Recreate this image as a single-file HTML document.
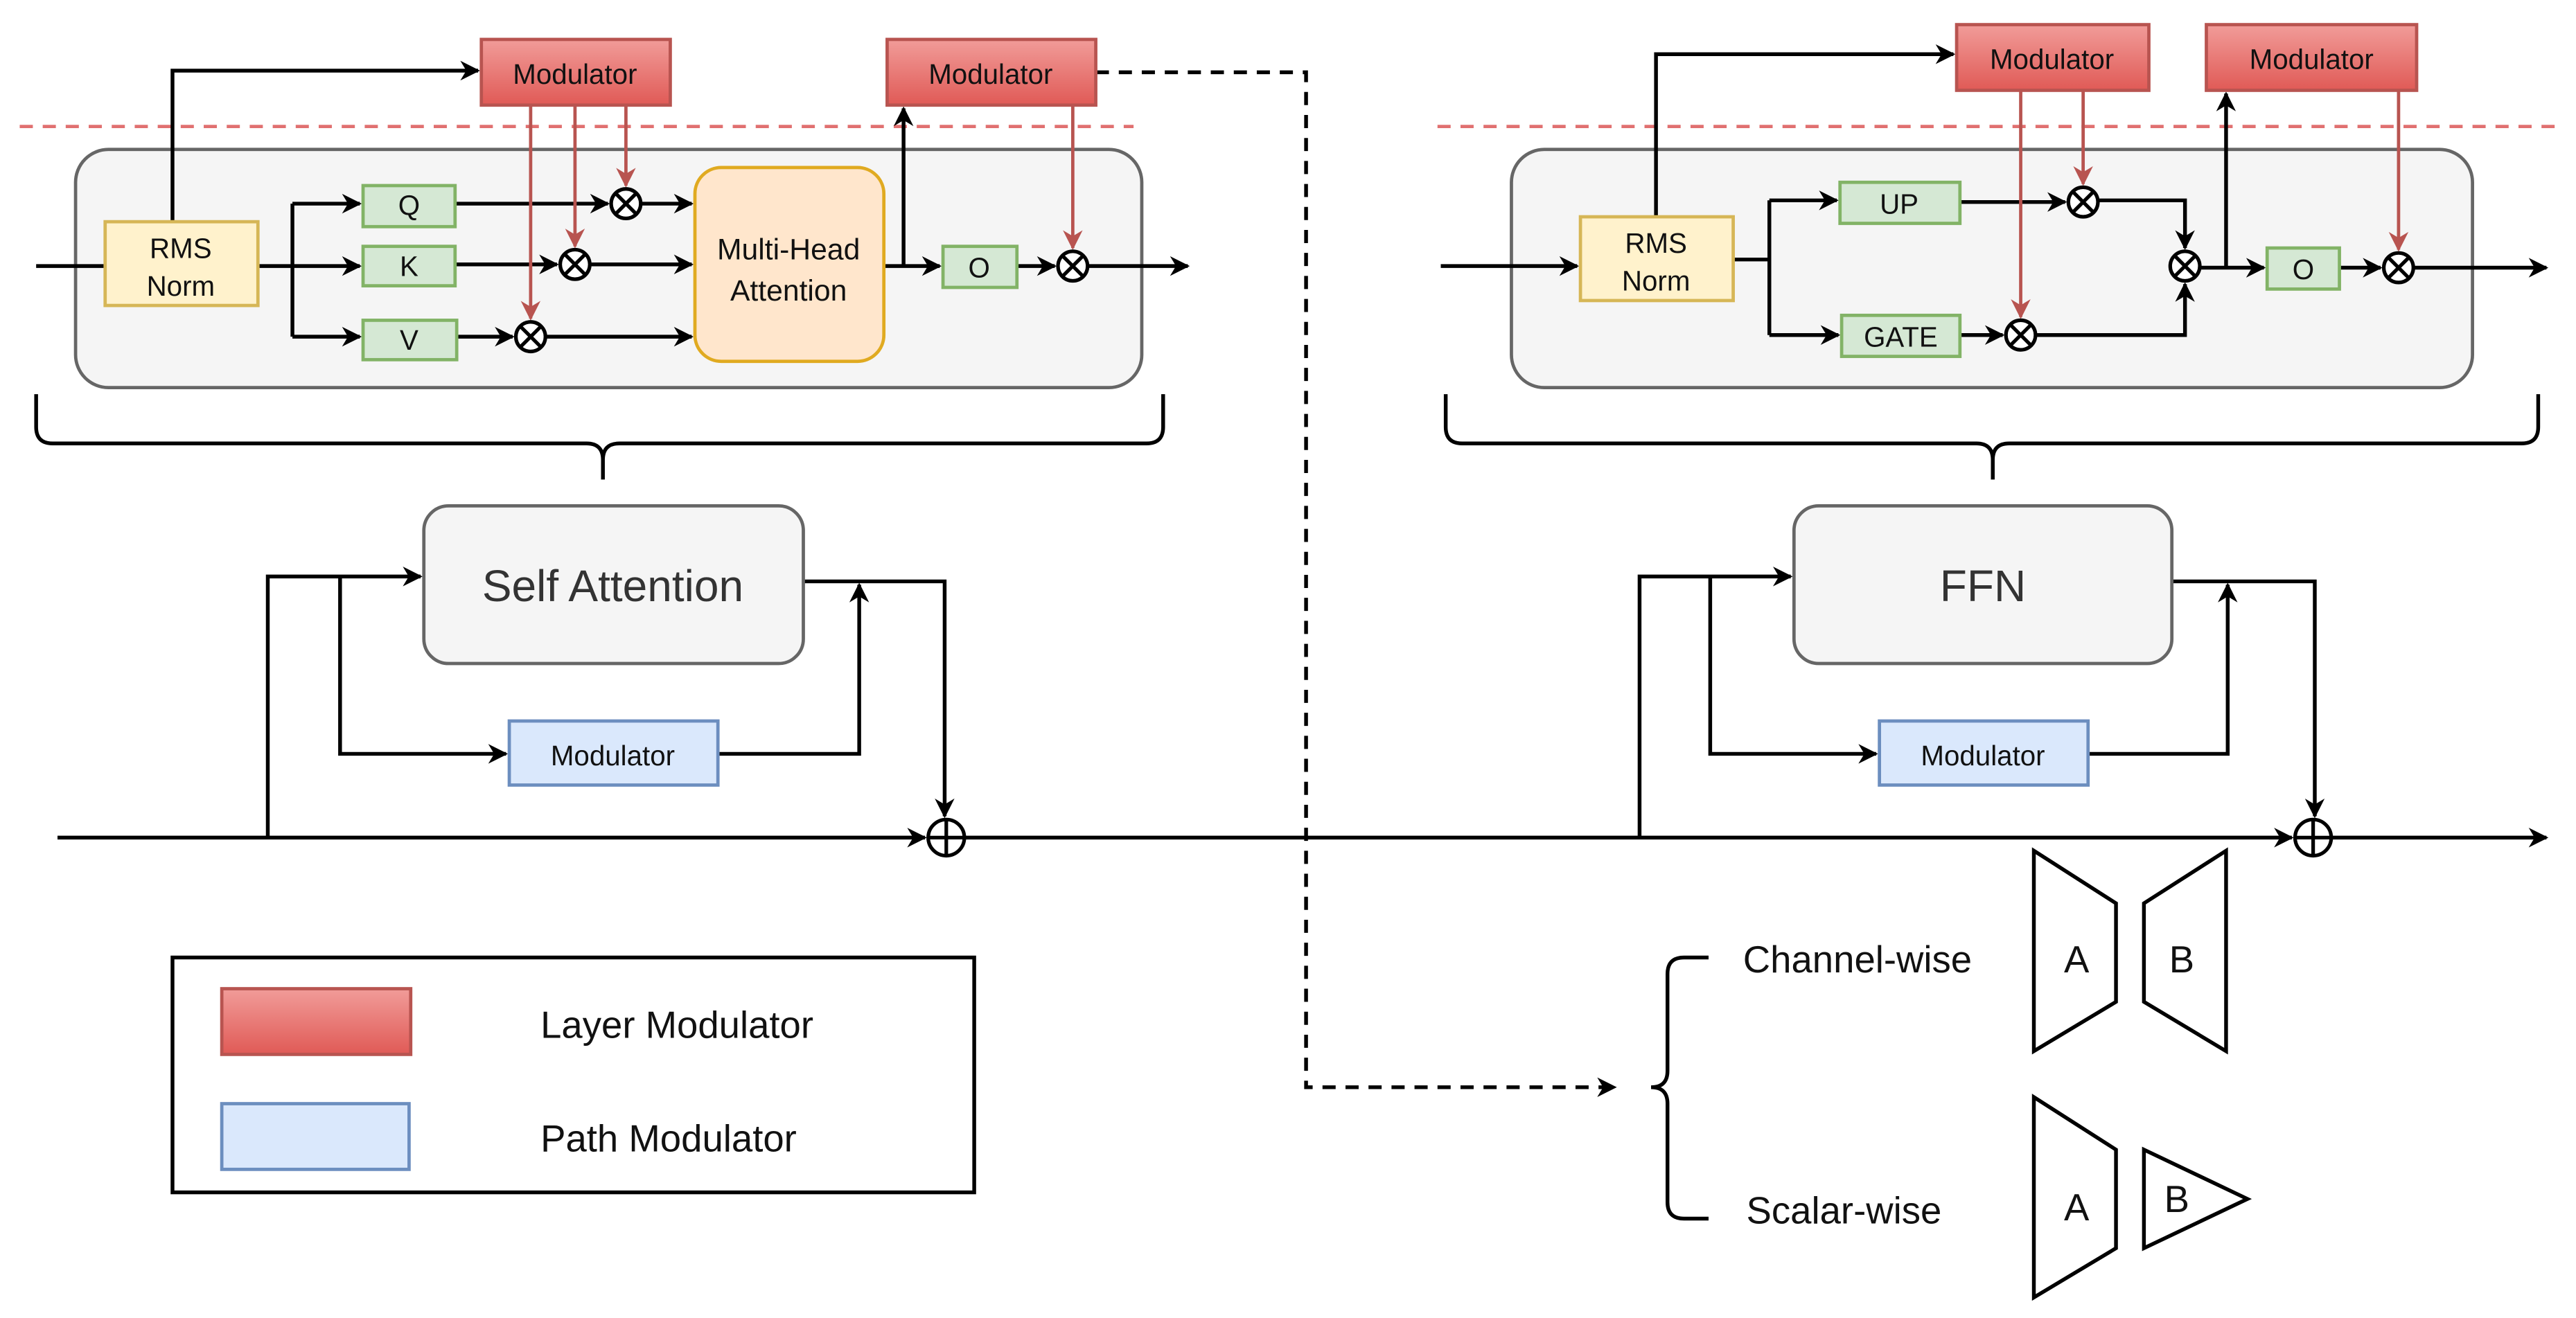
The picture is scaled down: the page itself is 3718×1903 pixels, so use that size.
<!DOCTYPE html>
<html><head><meta charset="utf-8"><style>
html,body{margin:0;padding:0;background:#fff;}
svg{display:block;}
text{font-family:"Liberation Sans",sans-serif;fill:#111;}
</style></head><body>
<svg width="3718" height="1903" viewBox="0 0 1568 802.5" preserveAspectRatio="none" xmlns="http://www.w3.org/2000/svg">
<defs>
<marker id="a" viewBox="0 0 10 10" refX="9" refY="5" markerWidth="12" markerHeight="12" orient="auto" markerUnits="userSpaceOnUse"><path d="M0,0 L10,5 L0,10 L3,5 z" fill="#000"/></marker>
<marker id="r" viewBox="0 0 10 10" refX="9" refY="5" markerWidth="12" markerHeight="12" orient="auto" markerUnits="userSpaceOnUse"><path d="M0,0 L10,5 L0,10 L3,5 z" fill="#b85450"/></marker>
<linearGradient id="rg" x1="0" y1="0" x2="0" y2="1"><stop offset="0" stop-color="#f19c99"/><stop offset="1" stop-color="#e05a56"/></linearGradient>
<g id="ot"><circle r="9" fill="#fff" stroke="#000" stroke-width="2.2"/><path d="M-6.4,-6.4L6.4,6.4M-6.4,6.4L6.4,-6.4" stroke="#000" stroke-width="2.2"/></g>
<g id="op"><circle r="11" fill="#fff" stroke="#000" stroke-width="2.2"/><path d="M-11,0H11M0,-11V11" stroke="#000" stroke-width="2.2"/></g>
</defs>
<g stroke-width="2" fill="none">
<path d="M12,77H690" stroke="#e07070" stroke-dasharray="8,6"/>
<path d="M875,77H1555" stroke="#e07070" stroke-dasharray="8,6"/>
<rect x="46" y="91" width="649" height="145" rx="20" fill="#f5f5f5" stroke="#666"/>
<rect x="920" y="91" width="585" height="145" rx="20" fill="#f5f5f5" stroke="#666"/>
</g>
<g stroke="#000" stroke-width="2.3" fill="none">
<path d="M22,162H64"/>
<path d="M105,135V43H291" marker-end="url(#a)"/>
<path d="M157,162H178M178,124V205"/>
<path d="M178,124H219" marker-end="url(#a)"/>
<path d="M178,162H219" marker-end="url(#a)"/>
<path d="M178,205H219" marker-end="url(#a)"/>
<path d="M277,124H370" marker-end="url(#a)"/>
<path d="M390,124H421" marker-end="url(#a)"/>
<path d="M277,161H339" marker-end="url(#a)"/>
<path d="M359,161H421" marker-end="url(#a)"/>
<path d="M277,205H312" marker-end="url(#a)"/>
<path d="M332,205H421" marker-end="url(#a)"/>
<path d="M538,162H572" marker-end="url(#a)"/>
<path d="M550,162V66" marker-end="url(#a)"/>
<path d="M619,162H642" marker-end="url(#a)"/>
<path d="M662,162H723" marker-end="url(#a)"/>
<path d="M667,44H795V662H983" stroke-dasharray="8,6" marker-end="url(#a)"/>
<path d="M877,162H960" marker-end="url(#a)"/>
<path d="M1008,132V33H1189" marker-end="url(#a)"/>
<path d="M1055,158H1077M1077,122V204"/>
<path d="M1077,122H1118" marker-end="url(#a)"/>
<path d="M1077,204H1119" marker-end="url(#a)"/>
<path d="M1193,123H1257" marker-end="url(#a)"/>
<path d="M1277,122H1330V151" marker-end="url(#a)"/>
<path d="M1193,204H1219" marker-end="url(#a)"/>
<path d="M1239,204H1330V173" marker-end="url(#a)"/>
<path d="M1339,163H1378" marker-end="url(#a)"/>
<path d="M1355,163V57" marker-end="url(#a)"/>
<path d="M1424,163H1449" marker-end="url(#a)"/>
<path d="M1469,163H1550" marker-end="url(#a)"/>
<path d="M22,240V260Q22,270 32,270H357Q367,270 367,280V292M367,280Q367,270 377,270H698Q708,270 708,260V240"/>
<path d="M880,240V260Q880,270 890,270H1203Q1213,270 1213,280V292M1213,280Q1213,270 1223,270H1535Q1545,270 1545,260V240"/>
<path d="M35,510H563" marker-end="url(#a)"/>
<path d="M587,510H1395" marker-end="url(#a)"/>
<path d="M1419,510H1550" marker-end="url(#a)"/>
<path d="M163,510V351H256" marker-end="url(#a)"/>
<path d="M207,351V459H308" marker-end="url(#a)"/>
<path d="M437,459H523V356" marker-end="url(#a)"/>
<path d="M489,354H575V497" marker-end="url(#a)"/>
<path d="M998,510V351H1090" marker-end="url(#a)"/>
<path d="M1041,351V459H1142" marker-end="url(#a)"/>
<path d="M1271,459H1356V356" marker-end="url(#a)"/>
<path d="M1322,354H1409V497" marker-end="url(#a)"/>
<path d="M1040,583H1025Q1015,583 1015,593V652Q1015,662 1005,662Q1015,662 1015,672V732Q1015,742 1025,742H1040"/>
<path d="M1238,518L1288,550V610L1238,640Z"/>
<path d="M1305,550L1355,518V640L1305,610Z"/>
<path d="M1238,668L1288,700V760L1238,790Z"/>
<path d="M1305,700L1368,730L1305,760Z"/>
<rect x="105" y="583" width="488" height="143"/>
</g>
<g stroke="#b85450" stroke-width="2" fill="none">
<path d="M323,64V194" marker-end="url(#r)"/>
<path d="M350,64V150" marker-end="url(#r)"/>
<path d="M381,64V113" marker-end="url(#r)"/>
<path d="M653,64V151" marker-end="url(#r)"/>
<path d="M1230,55V193" marker-end="url(#r)"/>
<path d="M1268,55V112" marker-end="url(#r)"/>
<path d="M1460,55V152" marker-end="url(#r)"/>
</g>
<g stroke-width="2">
<rect x="293" y="24" width="115" height="40" fill="url(#rg)" stroke="#b85450"/>
<rect x="540" y="24" width="127" height="40" fill="url(#rg)" stroke="#b85450"/>
<rect x="1191" y="15" width="117" height="40" fill="url(#rg)" stroke="#b85450"/>
<rect x="1343" y="15" width="128" height="40" fill="url(#rg)" stroke="#b85450"/>
<rect x="135" y="602" width="115" height="40" fill="url(#rg)" stroke="#b85450"/>
<rect x="64" y="135" width="93" height="51" fill="#fff2cc" stroke="#d6b656"/>
<rect x="962" y="132" width="93" height="51" fill="#fff2cc" stroke="#d6b656"/>
<rect x="221" y="113" width="56" height="25" fill="#d5e8d4" stroke="#82b366"/>
<rect x="221" y="150" width="56" height="24" fill="#d5e8d4" stroke="#82b366"/>
<rect x="221" y="195" width="57" height="24" fill="#d5e8d4" stroke="#82b366"/>
<rect x="574" y="150" width="45" height="25" fill="#d5e8d4" stroke="#82b366"/>
<rect x="1120" y="111" width="73" height="25" fill="#d5e8d4" stroke="#82b366"/>
<rect x="1121" y="192" width="72" height="25" fill="#d5e8d4" stroke="#82b366"/>
<rect x="1380" y="151" width="44" height="25" fill="#d5e8d4" stroke="#82b366"/>
<rect x="423" y="102" width="115" height="118" rx="16" fill="#ffe6cc" stroke="#e0aa20"/>
<rect x="258" y="308" width="231" height="96" rx="15" fill="#f5f5f5" stroke="#666"/>
<rect x="1092" y="308" width="230" height="96" rx="15" fill="#f5f5f5" stroke="#666"/>
<rect x="310" y="439" width="127" height="39" fill="#dae8fc" stroke="#6c8ebf"/>
<rect x="1144" y="439" width="127" height="39" fill="#dae8fc" stroke="#6c8ebf"/>
<rect x="135" y="672" width="114" height="40" fill="#dae8fc" stroke="#6c8ebf"/>
</g>
<use href="#ot" x="381" y="124"/><use href="#ot" x="350" y="161"/><use href="#ot" x="323" y="205"/><use href="#ot" x="653" y="162"/>
<use href="#ot" x="1268" y="123"/><use href="#ot" x="1230" y="204"/><use href="#ot" x="1330" y="162"/><use href="#ot" x="1460" y="163"/>
<use href="#op" x="576" y="510"/><use href="#op" x="1408" y="510"/>
<g font-size="17" text-anchor="middle">
<text x="350" y="51">Modulator</text>
<text x="603" y="51">Modulator</text>
<text x="1249" y="42">Modulator</text>
<text x="1407" y="42">Modulator</text>
<text x="110" y="157">RMS</text><text x="110" y="180">Norm</text>
<text x="1008" y="154">RMS</text><text x="1008" y="177">Norm</text>
<text x="249" y="131">Q</text>
<text x="249" y="168">K</text>
<text x="249" y="213">V</text>
<text x="596" y="169">O</text>
<text x="1156" y="130">UP</text>
<text x="1157" y="211">GATE</text>
<text x="1402" y="170">O</text>
<text x="480" y="158" font-size="18">Multi-Head</text>
<text x="480" y="183" font-size="18">Attention</text>
<text x="373" y="466">Modulator</text>
<text x="1207" y="466">Modulator</text>
</g>
<g font-size="27" text-anchor="middle">
<text x="373" y="366" style="fill:#333">Self Attention</text>
<text x="1207" y="366" style="fill:#333">FFN</text>
</g>
<g font-size="23">
<text x="329" y="632">Layer Modulator</text>
<text x="329" y="701">Path Modulator</text>
<text x="1061" y="592">Channel-wise</text>
<text x="1063" y="745">Scalar-wise</text>
<text x="1264" y="592" text-anchor="middle">A</text>
<text x="1328" y="592" text-anchor="middle">B</text>
<text x="1264" y="743" text-anchor="middle">A</text>
<text x="1325" y="738" text-anchor="middle">B</text>
</g>
</svg>
</body></html>
